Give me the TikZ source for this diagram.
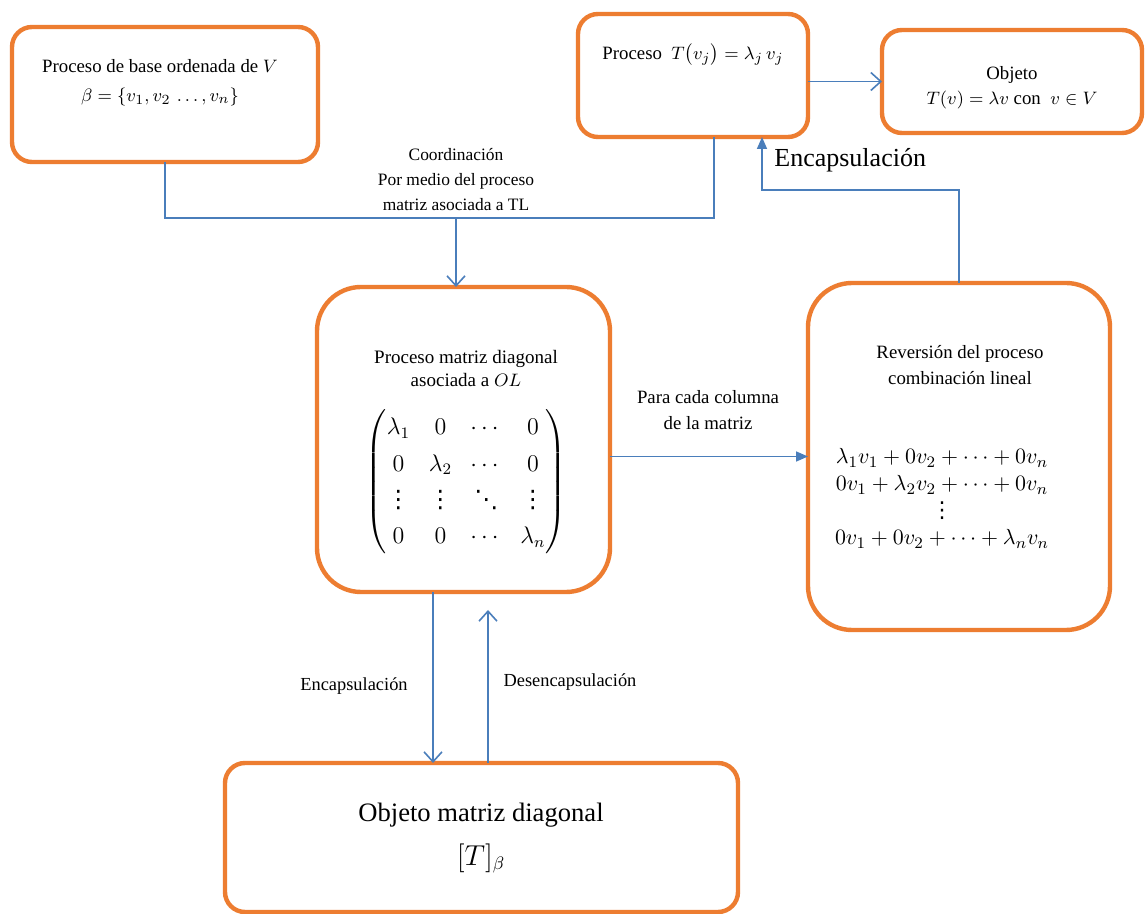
\documentclass[tikz,border=0pt]{standalone}
\usepackage{amsmath}
\usepackage{fontspec}
\setmainfont{Liberation Serif}
\newfontfamily\plainserif{Liberation Serif}
\newfontfamily\dotsfont{DejaVu Sans}
\usetikzlibrary{arrows.meta}
\definecolor{boxorange}{HTML}{ED7D31}
\definecolor{lineblue}{HTML}{4A7EBB}
\newcommand\lowvdots{\mbox{\dotsfont ⋮}}
\newcommand\lowddots{\mbox{\dotsfont ⋱}}

\begin{document}
\begin{tikzpicture}[x=0.5pt, y=-0.5pt,
    box/.style={draw=boxorange, line width=2.2pt, fill=white, rounded corners=#1, inner sep=0pt, outer sep=0pt},
    box/.default=10pt,
    lbl/.style={align=center, inner sep=1pt, font=\fontsize{9.4}{13}\selectfont},
    link/.style={draw=lineblue, line width=0.8pt},
    opentip/.style={-{Straight Barb[length=5pt,width=9pt]}},
    fulltip/.style={-{Triangle[length=6pt,width=5pt]}}
  ]
  \useasboundingbox[fill=white] (0,0) rectangle (1147,914);

  \node[box, minimum width=153pt, minimum height=67.5pt] (base) at (165,94.5) {};
  \node[box, minimum width=115pt, minimum height=61.5pt] (proc) at (693,75.5) {};
  \node[box, minimum width=130pt, minimum height=51.5pt] (obj) at (1012,81.5) {};
  \node[box=22pt, minimum width=146.5pt, minimum height=152.5pt] (mat) at (463.5,439.5) {};
  \node[box=22pt, minimum width=151pt, minimum height=173.5pt] (rev) at (959,456.5) {};
  \node[box, minimum width=256.5pt, minimum height=74.5pt] (dia) at (481.5,837.5) {};

  \node[lbl, font=\fontsize{9.4}{14.5}\selectfont] (baseTxt) at (160,83) {Proceso de base ordenada de $V$\\$\beta=\{v_1,v_2\,\ldots,v_n\}$};
  \node[lbl] (procTxt) at (693,55) {Proceso\ \ $T\bigl(v_j\bigr)=\lambda_j\,v_j$};
  \node[lbl, font=\fontsize{9.4}{12.5}\selectfont] (objTxt) at (1012,88) {Objeto\\$T(v)=\lambda v$ con\ \ $v\in V$};
  \node[lbl, font=\fontsize{8.7}{12.5}\selectfont] (coordTxt) at (456,180) {Coordinación\\Por medio del proceso\\matriz asociada a TL};
  \node[lbl, font=\fontsize{9.5}{11.5}\selectfont] (matTxt) at (466,369) {Proceso matriz diagonal\\asociada a $OL$};
  \node[lbl, font=\fontsize{12}{14.5}\selectfont] (matM) at (466,482) {$\setlength\arraycolsep{4.5pt}\renewcommand\arraystretch{1.25}
    \begin{pmatrix}\lambda_1 & 0 & \cdots & 0\\ 0 & \lambda_2 & \cdots & 0\\ \lowvdots & \lowvdots & \lowddots & \lowvdots\\ 0 & 0 & \cdots & \lambda_n\end{pmatrix}$};
  \node[lbl] (revTxt) at (960,365) {Reversión del proceso\\combinación lineal};
  \node[lbl, font=\fontsize{11}{13.5}\selectfont] (revEq) at (942,499) {$\begin{array}{c}
    \lambda_1v_1+0v_2+\cdots+0v_n\\ 0v_1+\lambda_2v_2+\cdots+0v_n\\ \lowvdots\\ 0v_1+0v_2+\cdots+\lambda_nv_n\end{array}$};
  \node[lbl, font=\fontsize{13.3}{22}\selectfont] (diaTxt) at (481,838) {Objeto matriz diagonal\\$[T]_\beta$};

  \coordinate (join) at (456,218);
  \draw[link] (base.south) |- (join) -| ([xshift=10.5pt]proc.south);
  \draw[link,opentip] (join) -- (join |- mat.north);
  \draw[link,opentip] (proc.east |- obj.west) -- (obj.west);
  \draw[link,fulltip] (rev.north) -- ++(0,-93) -| ([xshift=34.5pt]proc.south);
  \node[font=\plainserif\fontsize{13}{15}\selectfont, anchor=west, inner sep=1pt] (encTop) at (772,160) {Encapsulación};
  \draw[link,fulltip] (mat.east |- rev.west) -- (rev.west);
  \node[lbl] (colTxt) at (708,410) {Para cada columna\\de la matriz};
  \draw[link,opentip] ([xshift=-15.25pt]mat.south) -- ([xshift=-15.25pt]mat.south |- dia.north);
  \draw[link,opentip,shorten >=9pt] ([xshift=12.25pt]mat.south |- dia.north) -- ([xshift=12.25pt]mat.south);
  \node[lbl, font=\fontsize{9.2}{12}\selectfont] (encBot) at (354,686) {Encapsulación};
  \node[lbl, font=\fontsize{9.2}{12}\selectfont] (desBot) at (570,682) {Desencapsulación};
\end{tikzpicture}
\end{document}
